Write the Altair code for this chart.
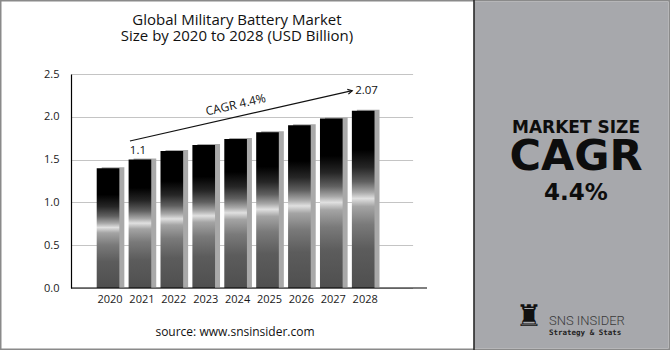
import altair as alt
import pandas as pd

# ---- data ----
years = ["2020", "2021", "2022", "2023", "2024", "2025", "2026", "2027", "2028"]
values = [1.40, 1.50, 1.60, 1.67, 1.74, 1.82, 1.90, 1.98, 2.07]
y_ticks = [0.0, 0.5, 1.0, 1.5, 2.0, 2.5]

title_lines = ["Global Military Battery Market", "Size by 2020 to 2028 (USD Billion)"]
source_text = "source: www.snsinsider.com"
cagr_text = "CAGR  4.4%"
start_label = "1.1"
end_label = "2.07"
panel_lines = ["MARKET SIZE", "CAGR", "4.4%"]
brand_lines = ["SNS INSIDER", "Strategy & Stats"]

df = pd.DataFrame({"year": years, "value": values})
one = pd.DataFrame({"k": [0]})

W, H = 356, 214
PL, PT = 71, 74
PR = 670 - PL - W
PB = 350 - PT - H

BASE_FONT = "Open Sans"

x_scale = alt.Scale(domain=years, range=[0, 341.6], paddingInner=0.29, paddingOuter=1, align=0.403)
y_scale = alt.Scale(domain=[0, 2.5], nice=False, zero=True)

x_enc = alt.X(
    "year:N",
    scale=x_scale,
    axis=alt.Axis(
        title=None, labelAngle=0, ticks=False, grid=False, domain=False,
        labelFont=BASE_FONT, labelFontSize=11, labelColor="#1a1a1a",
        labelPadding=5, labelOffset=2,
    ),
)
y_enc = alt.Y(
    "value:Q",
    scale=y_scale,
    axis=alt.Axis(
        title=None, values=y_ticks, format=".1f", ticks=False,
        domainColor="#000000", domainWidth=1.2,
        gridColor="#c4c4c4", gridWidth=1,
        labelFont=BASE_FONT, labelFontSize=11, labelColor="#1a1a1a",
        labelPadding=12,
    ),
)

# ---- decorations (frame + right panel) ----
frame = alt.Chart(one).mark_rect(fillOpacity=0, stroke="#8a8a8a", strokeWidth=1.5).encode(
    x=alt.value(-PL + 0.75), x2=alt.value(W + PR - 0.75),
    y=alt.value(-PT + 0.75), y2=alt.value(H + PB - 0.75),
)
panel = alt.Chart(one).mark_rect(fill="#a7a8ac").encode(
    x=alt.value(403), x2=alt.value(W + PR - 1.5),
    y=alt.value(-PT + 1.5), y2=alt.value(H + PB - 1.5),
)
divider = alt.Chart(one).mark_rule(color="#2a2a2a", strokeWidth=1.6).encode(
    x=alt.value(403), y=alt.value(-PT), y2=alt.value(H + PB),
)

# ---- bars ----
gradient = alt.Gradient(
    gradient="linear",
    x1=0, y1=1, x2=0, y2=0,
    stops=[
        alt.GradientStop(color="#4f4f4f", offset=0.0),
        alt.GradientStop(color="#5c5c5c", offset=0.22),
        alt.GradientStop(color="#7a7a7a", offset=0.36),
        alt.GradientStop(color="#a4a4a4", offset=0.46),
        alt.GradientStop(color="#e0e0e0", offset=0.505),
        alt.GradientStop(color="#a8a8a8", offset=0.54),
        alt.GradientStop(color="#606060", offset=0.60),
        alt.GradientStop(color="#262626", offset=0.68),
        alt.GradientStop(color="#000000", offset=0.78),
        alt.GradientStop(color="#000000", offset=1.0),
    ],
)

shadow = alt.Chart(df).mark_bar(color="#a9a9a9", xOffset=5, x2Offset=5, yOffset=-1).encode(
    x=x_enc, y=y_enc
)
bars = alt.Chart(df).mark_bar(color=gradient).encode(x=x_enc, y=y_enc)

baseline = alt.Chart(one).mark_rule(color="#000000", strokeWidth=1.2).encode(
    x=alt.value(0), x2=alt.value(W), y=alt.YDatum(0)
)

# ---- CAGR arrow annotation ----
arrow = alt.Chart(one).mark_rule(color="#111111", strokeWidth=1.2, xOffset=-10, x2Offset=-11).encode(
    x=alt.XDatum("2021", type="nominal"), y=alt.YDatum(1.717),
    x2=alt.X2Datum("2028"), y2=alt.Y2Datum(2.305),
)
arrow_head = alt.Chart(one).mark_point(
    shape="M-1,-0.55L0,0L-1,0.55", filled=False, stroke="#111111", strokeWidth=1.2,
    size=80, angle=347, xOffset=-11, opacity=1,
).encode(x=alt.XDatum("2028", type="nominal"), y=alt.YDatum(2.305))

cagr_lbl = alt.Chart(one).mark_text(
    text=cagr_text, font=BASE_FONT, fontSize=12, color="#111111", angle=347,
    align="center", baseline="middle",
).encode(x=alt.XDatum("2024", type="nominal"), y=alt.YDatum(2.14))
start_lbl = alt.Chart(one).mark_text(
    text=start_label, font=BASE_FONT, fontSize=11.5, color="#111111",
    align="center", baseline="middle", dx=-2,
).encode(x=alt.XDatum("2021", type="nominal"), y=alt.YDatum(1.606))
end_lbl = alt.Chart(one).mark_text(
    text=end_label, font=BASE_FONT, fontSize=11.5, color="#111111",
    align="left", baseline="middle", dx=-8,
).encode(x=alt.XDatum("2028", type="nominal"), y=alt.YDatum(2.305))

# ---- texts ----
def txt(s, x, y, size, font=BASE_FONT, weight="normal", color="#111111", align="center"):
    return alt.Chart(one).mark_text(
        text=s, font=font, fontSize=size, fontWeight=weight, color=color,
        align=align, baseline="middle",
    ).encode(x=alt.value(x), y=alt.value(y))

title1 = txt(title_lines[0], 237 - PL, 20 - PT, 15, weight=500)
title2 = txt(title_lines[1], 237 - PL, 35.5 - PT, 15, weight=500)
source = txt(source_text, 235 - PL, 332 - PT, 12, weight=500)

p1 = txt(panel_lines[0], 576 - PL, 128 - PT, 17, font="DejaVu Sans", weight="bold", color="#0d0d0d")
p2 = txt(panel_lines[1], 576 - PL, 157 - PT, 43, font="DejaVu Sans", weight="bold", color="#0d0d0d")
p3 = txt(panel_lines[2], 576 - PL, 193 - PT, 23, font="DejaVu Sans", weight="bold", color="#0d0d0d")

rook = txt("\u265c", 529 - PL, 317 - PT, 30, font="DejaVu Sans", color="#111111")
brand1 = txt(brand_lines[0], 549 - PL, 321 - PT, 13, font="Liberation Sans Narrow, Roboto", weight=300,
             color="#3a3a3a", align="left")
brand2 = txt(brand_lines[1], 549 - PL, 333 - PT, 7.5, font="DejaVu Sans Mono", weight="bold",
             color="#222222", align="left")

chart = alt.layer(
    frame, panel, divider,
    shadow, bars, baseline,
    arrow, arrow_head, cagr_lbl, start_lbl, end_lbl,
    title1, title2, source,
    p1, p2, p3, rook, brand1, brand2,
).properties(
    width=W, height=H,
    padding={"left": PL, "top": PT, "right": PR, "bottom": PB},
    autosize=alt.AutoSizeParams(type="none"),
    background="white",
).configure_view(stroke=None)

chart.save("out.html", embed_options={"renderer": "svg", "actions": False})
